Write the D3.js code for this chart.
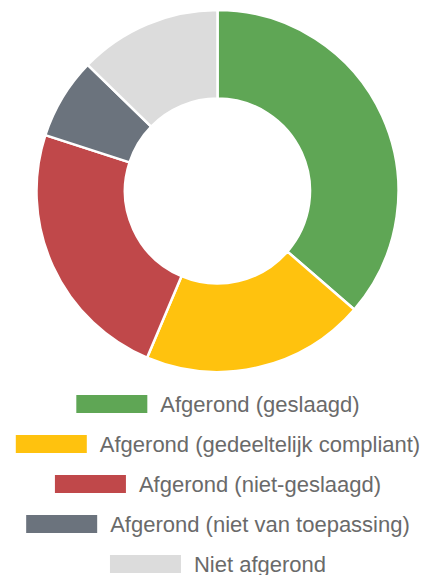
<!DOCTYPE html>
<html>
<head>
  <meta charset="utf-8">
  <script src="https://d3js.org/d3.v7.min.js"></script>
  <style>
    body { margin: 0; background: #fff; }
    .legend text {
      font-family: 'Liberation Sans', Arial, sans-serif;
      font-size: 22px;
      fill: #6a6a6a;
    }
  </style>
</head>
<body>
<div id="chart"></div>
<script type="text/javascript">

  // data
  var labels = [
    "Afgerond (geslaagd)",
    "Afgerond (gedeeltelijk compliant)",
    "Afgerond (niet-geslaagd)",
    "Afgerond (niet van toepassing)",
    "Niet afgerond"
  ];
  var values = [20, 11, 13, 4, 7];
  var colors = ["#5fa655", "#ffc20e", "#c0484a", "#6b737d", "#dcdcdc"];

  var width = 421,
      height = 575;

  var cx = 217.5, cy = 191,
      outerR = 181, innerR = 92.5;

  var svg = d3.select("#chart").append("svg")
      .attr("width", width)
      .attr("height", height);

  var pie = d3.pie().sort(null).value(function(d) { return d; });
  var arc = d3.arc().innerRadius(innerR).outerRadius(outerR);

  var g = svg.append("g").attr("transform", "translate(" + cx + "," + cy + ")");

  g.selectAll("path")
      .data(pie(values))
      .enter().append("path")
      .attr("d", arc)
      .attr("fill", function(d, i) { return colors[i]; })
      .attr("stroke", "#fff")
      .attr("stroke-width", 2.5)
      .attr("stroke-linejoin", "round");

  // legend, each row centred under the donut
  var legendY = d3.scaleBand()
      .domain(d3.range(labels.length))
      .range([384, 584])
      .paddingInner(0);

  var boxW = 71, boxH = 18, gap = 13, centerX = 218;

  var rows = svg.append("g").attr("class", "legend")
      .selectAll("g")
      .data(labels)
      .enter().append("g");

  rows.each(function(d, i) {
    var row = d3.select(this);
    var mid = legendY(i) + legendY.bandwidth() / 2;
    var txt = row.append("text")
        .attr("y", mid + 7.5)
        .text(d);
    var tw = txt.node().getComputedTextLength();
    var x0 = centerX - (boxW + gap + tw) / 2;
    row.append("rect")
        .attr("x", x0)
        .attr("y", mid - boxH / 2)
        .attr("width", boxW)
        .attr("height", boxH)
        .attr("fill", colors[i]);
    txt.attr("x", x0 + boxW + gap);
  });

</script>
</body>
</html>
